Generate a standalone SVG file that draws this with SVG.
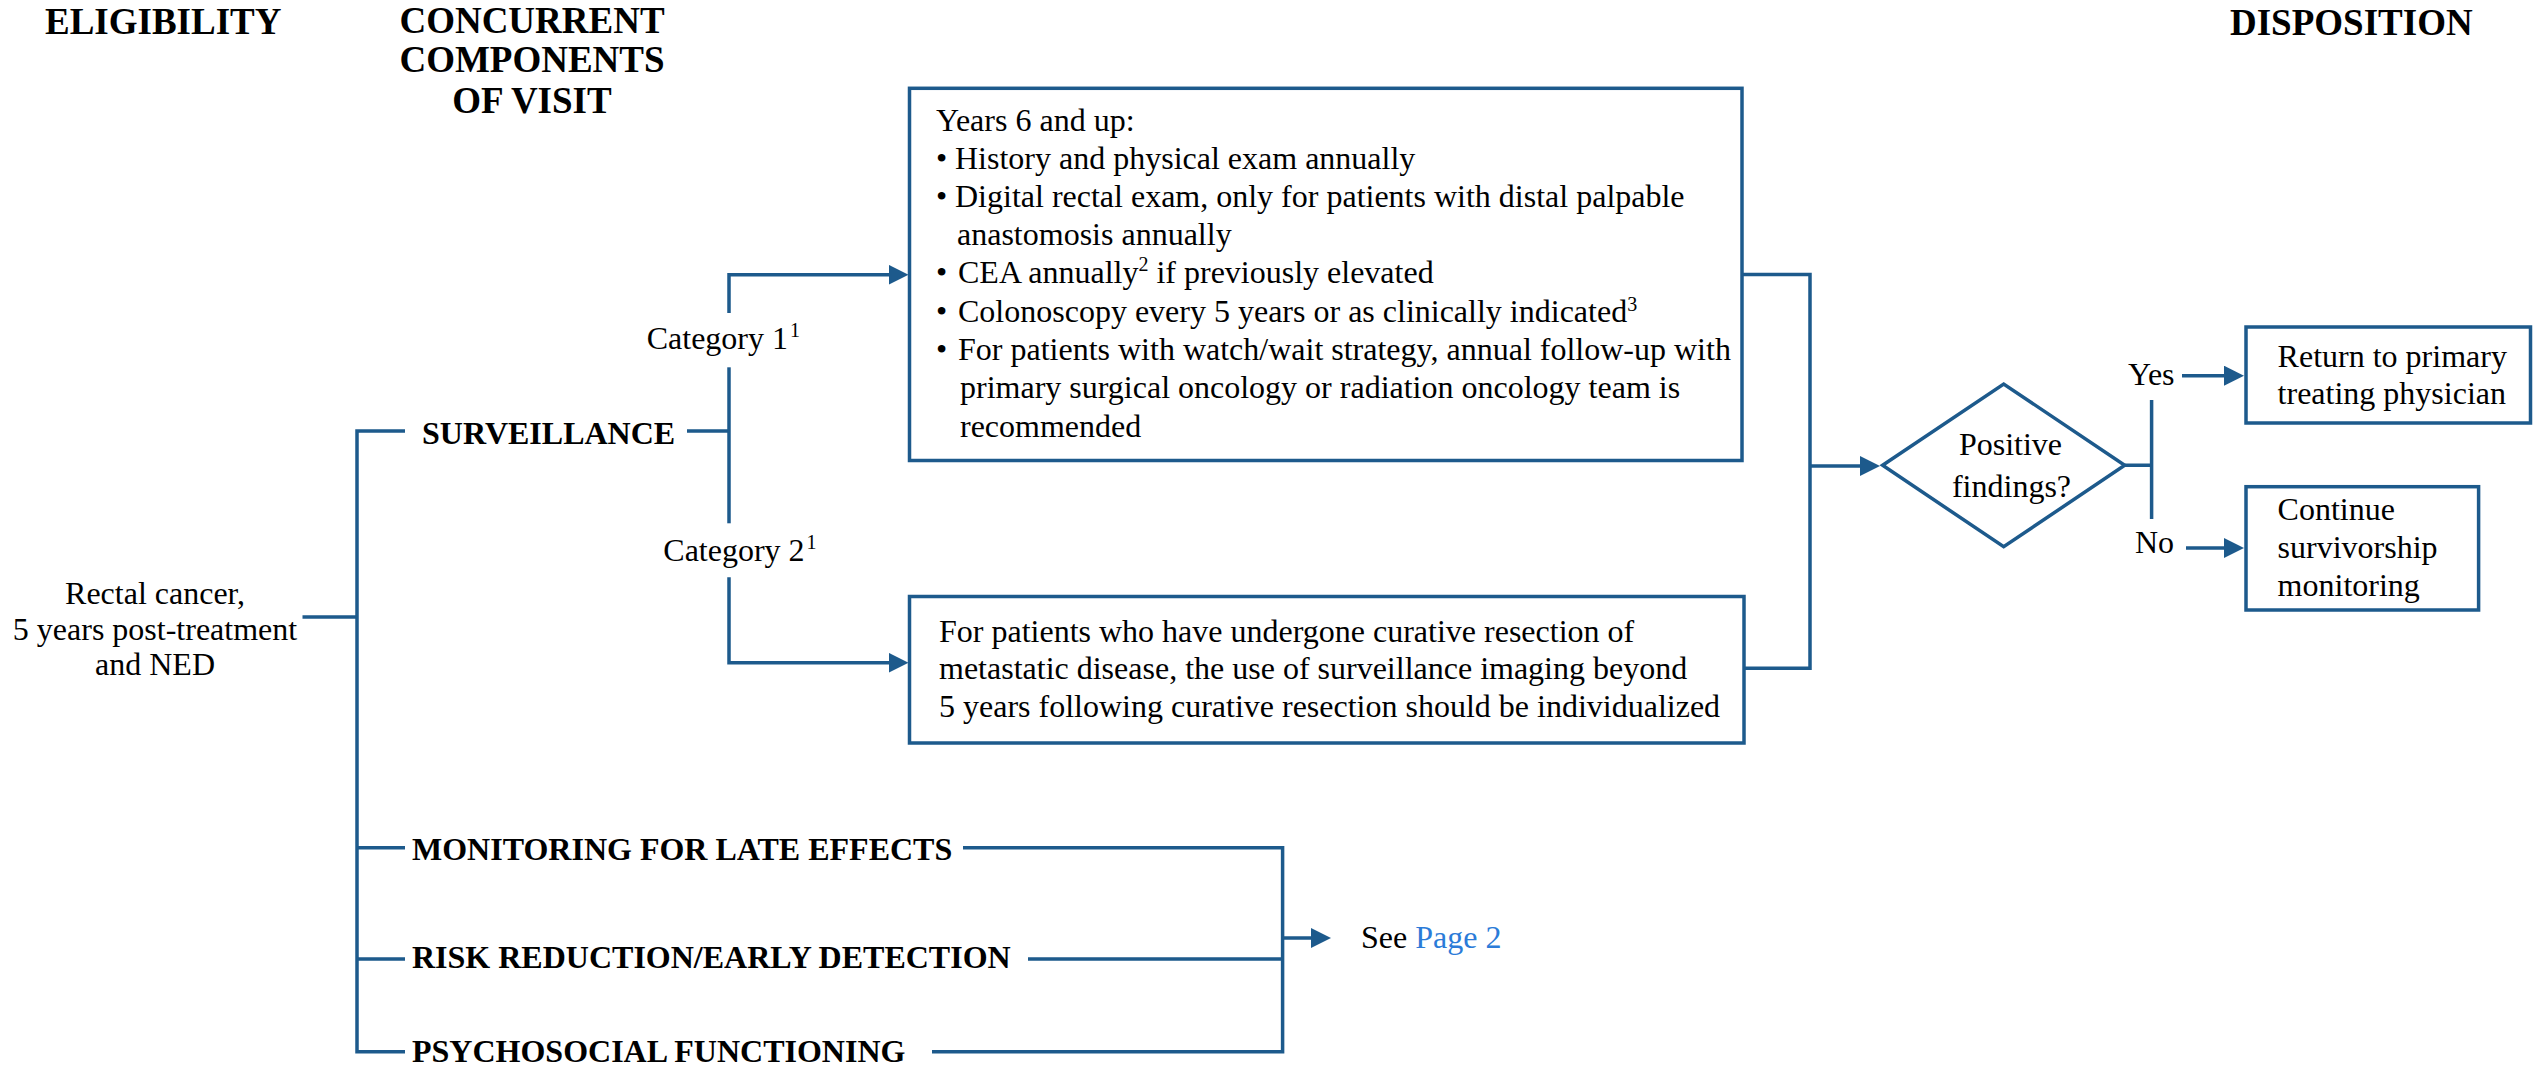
<svg xmlns="http://www.w3.org/2000/svg" width="2540" height="1065" viewBox="0 0 2540 1065">
  <style>
    .t { font-family: "Liberation Serif", "Times New Roman", serif; font-size: 32px; fill: #000; }
    .b { font-weight: bold; }
    .h { font-family: "Liberation Serif", "Times New Roman", serif; font-size: 37px; font-weight: bold; fill: #000; }
    .sup { font-size: 20px; }
    .box { fill: #fff; stroke: #1d5a8c; stroke-width: 3.5; }
    .ln { fill: none; stroke: #1d5a8c; stroke-width: 3.5; stroke-linejoin: miter; }
    .link { fill: #2b7bd8; }
  </style>
  <defs>
    <marker id="arr" markerUnits="userSpaceOnUse" markerWidth="20" markerHeight="20" refX="10" refY="10" orient="auto">
      <path d="M0,0 L20,10 L0,20 Z" fill="#1d5a8c"/>
    </marker>
  </defs>
  <rect width="2540" height="1065" fill="#fff"/>

  <g id="headers">
    <text class="h" x="45" y="34">ELIGIBILITY</text>
    <text class="h" x="532" y="33" text-anchor="middle">CONCURRENT</text>
    <text class="h" x="532" y="72" text-anchor="middle">COMPONENTS</text>
    <text class="h" x="532" y="113" text-anchor="middle">OF VISIT</text>
    <text class="h" x="2230" y="35">DISPOSITION</text>
  </g>

  <g id="connectors">
    <path class="ln" d="M302.5,617 H357"/>
    <path class="ln" d="M405,431 H357 V1051.7 H405 M357,847.7 H405 M357,959 H405"/>
    <path class="ln" d="M687,431 H729 M729,313 V274.7 H898.5" marker-end="url(#arr)"/>
    <path class="ln" d="M729,367.3 V523.3"/>
    <path class="ln" d="M729,577.3 V662.7 H898.5" marker-end="url(#arr)"/>
    <path class="ln" d="M1742,274.5 H1810 V668.3 H1744"/>
    <path class="ln" d="M1810,466 H1870" marker-end="url(#arr)"/>
    <path class="ln" d="M2124.7,465.3 H2151.6 M2151.6,400 V519"/>
    <path class="ln" d="M2182,375.7 H2234" marker-end="url(#arr)"/>
    <path class="ln" d="M2186,548 H2234" marker-end="url(#arr)"/>
    <path class="ln" d="M963,847.7 H1282.6 V1051.7 H932 M1028,959 H1282.6"/>
    <path class="ln" d="M1282.6,938 H1321" marker-end="url(#arr)"/>
  </g>

  <g id="node-eligibility">
    <text class="t" x="155" y="604" text-anchor="middle">Rectal cancer,</text>
    <text class="t" x="155" y="639.5" text-anchor="middle">5 years post-treatment</text>
    <text class="t" x="155" y="675" text-anchor="middle">and NED</text>
  </g>

  <g id="node-surveillance">
    <text class="t b" x="422" y="444">SURVEILLANCE</text>
  </g>

  <g id="label-category1">
    <text class="t" x="646.7" y="349.3">Category 1<tspan class="sup" dx="2" dy="-12">1</tspan></text>
  </g>
  <g id="label-category2">
    <text class="t" x="663.3" y="560.7">Category 2<tspan class="sup" dx="2" dy="-12">1</tspan></text>
  </g>

  <g id="node-years6">
    <rect class="box" x="909.5" y="88.3" width="832.5" height="372.2"/>
    <text class="t" x="936" y="130.7">Years 6 and up:</text>
    <text class="t" x="936" y="169">•</text>
    <text class="t" x="955" y="169">History and physical exam annually</text>
    <text class="t" x="936" y="206.7">•</text>
    <text class="t" x="955" y="206.7">Digital rectal exam, only for patients with distal palpable</text>
    <text class="t" x="957" y="245">anastomosis annually</text>
    <text class="t" x="936" y="283.3">•</text>
    <text class="t" x="958" y="283.3">CEA annually<tspan class="sup" dy="-12">2</tspan><tspan dy="12"> if previously elevated</tspan></text>
    <text class="t" x="936" y="321.7">•</text>
    <text class="t" x="958" y="321.7">Colonoscopy every 5 years or as clinically indicated<tspan class="sup" dy="-11">3</tspan></text>
    <text class="t" x="936" y="360">•</text>
    <text class="t" x="958" y="360">For patients with watch/wait strategy, annual follow-up with</text>
    <text class="t" x="960" y="398.3">primary surgical oncology or radiation oncology team is</text>
    <text class="t" x="960" y="436.7">recommended</text>
  </g>

  <g id="node-metastatic">
    <rect class="box" x="909.5" y="596.5" width="834.5" height="146.5"/>
    <text class="t" x="939" y="641.7">For patients who have undergone curative resection of</text>
    <text class="t" x="939" y="679">metastatic disease, the use of surveillance imaging beyond</text>
    <text class="t" x="939" y="716.7">5 years following curative resection should be individualized</text>
  </g>

  <g id="node-positive">
    <polygon class="box" points="1882.6,465.3 2003.7,384 2124.7,465.3 2003.7,546.7"/>
    <text class="t" x="2010.5" y="455" text-anchor="middle">Positive</text>
    <text class="t" x="2011.5" y="496.7" text-anchor="middle">findings?</text>
  </g>

  <g id="label-yes">
    <text class="t" x="2128" y="385">Yes</text>
  </g>
  <g id="label-no">
    <text class="t" x="2135" y="553">No</text>
  </g>

  <g id="node-return">
    <rect class="box" x="2246" y="327" width="284.5" height="96"/>
    <text class="t" x="2277.6" y="366.7">Return to primary</text>
    <text class="t" x="2277.6" y="404">treating physician</text>
  </g>

  <g id="node-continue">
    <rect class="box" x="2246" y="486.7" width="232.6" height="123.3"/>
    <text class="t" x="2277.6" y="520">Continue</text>
    <text class="t" x="2277.6" y="557.5">survivorship</text>
    <text class="t" x="2277.6" y="596">monitoring</text>
  </g>

  <g id="node-late-effects">
    <text class="t b" x="412" y="860">MONITORING FOR LATE EFFECTS</text>
  </g>
  <g id="node-risk-reduction">
    <text class="t b" x="412" y="968">RISK REDUCTION/EARLY DETECTION</text>
  </g>
  <g id="node-psychosocial">
    <text class="t b" x="412" y="1062">PSYCHOSOCIAL FUNCTIONING</text>
  </g>

  <g id="node-see-page2">
    <text class="t" x="1361" y="948">See <tspan class="link">Page 2</tspan></text>
  </g>
</svg>
